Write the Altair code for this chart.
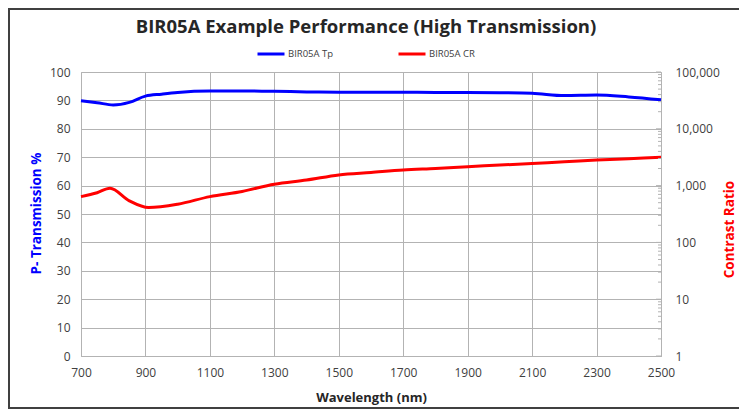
import altair as alt
import pandas as pd

# ---- data ----
series_names = ["BIR05A Tp", "BIR05A CR"]
series_colors = ["#0000ff", "#ff0000"]

tp_wavelength = [700, 750, 800, 850, 900, 950, 1000, 1100, 1200, 1300, 1400, 1500,
                 1600, 1700, 1800, 1900, 2000, 2100, 2200, 2300, 2400, 2500]
tp_values = [89.9, 89.2, 88.4, 89.3, 91.5, 92.2, 92.8, 93.3, 93.3, 93.2, 93.0, 92.9,
             92.9, 92.9, 92.8, 92.8, 92.7, 92.5, 91.7, 91.9, 91.2, 90.2]

cr_wavelength = [700, 750, 790, 850, 910, 1000, 1100, 1200, 1300, 1400, 1500, 1600,
                 1700, 1800, 1900, 2000, 2100, 2200, 2300, 2400, 2500]
cr_values = [640, 750, 900, 540, 410, 470, 640, 790, 1060, 1250, 1540, 1700,
             1880, 2000, 2150, 2300, 2460, 2620, 2820, 2980, 3150]

x_ticks = [700, 900, 1100, 1300, 1500, 1700, 1900, 2100, 2300, 2500]
left_ticks = [0, 10, 20, 30, 40, 50, 60, 70, 80, 90, 100]
right_ticks = [1, 10, 100, 1000, 10000, 100000]
right_minor_ticks = [m * d for d in [1, 10, 100, 1000, 10000] for m in range(2, 10)]

title_text = "BIR05A Example Performance (High Transmission)"

# ---- layout / style ----
FONT = "Open Sans"
W, H = 580, 284
GRID = "#b3b3b3"
LABEL = "#404040"

tp_df = pd.DataFrame({"wl": tp_wavelength, "v": tp_values, "s": series_names[0]})
cr_df = pd.DataFrame({"wl": cr_wavelength, "v": cr_values, "s": series_names[1]})
major_df = pd.DataFrame({"v": right_ticks})
minor_df = pd.DataFrame({"v": right_minor_ticks})

color = alt.Color(
    "s:N",
    scale=alt.Scale(domain=series_names, range=series_colors),
    legend=alt.Legend(
        title=None, orient="none", legendX=175, legendY=-33,
        direction="horizontal", symbolType="stroke", symbolStrokeWidth=3,
        symbolSize=729, labelFont=FONT, labelFontSize=9.5, labelColor="#404040",
        labelOffset=2, columnPadding=58,
    ),
)

xenc = alt.X(
    "wl:Q",
    scale=alt.Scale(domain=[700, 2500], nice=False, zero=False),
    axis=alt.Axis(
        values=x_ticks, format="d", title="Wavelength (nm)", grid=True,
        gridColor=GRID, domainColor=GRID, ticks=False, labelPadding=11,
        labelFlush=False,
        labelFont=FONT, labelFontSize=12, labelColor=LABEL,
        titleFont=FONT, titleFontSize=13, titleFontWeight="bold", titleColor="#262626",
        titleY=45, titleBaseline="alphabetic",
    ),
)

tp_line = alt.Chart(tp_df).mark_line(strokeWidth=3, interpolate="monotone").encode(
    x=xenc,
    y=alt.Y(
        "v:Q",
        scale=alt.Scale(domain=[0, 100], nice=False),
        axis=alt.Axis(
            values=left_ticks, title="P- Transmission %", grid=True, gridColor=GRID,
            domainColor=GRID, ticks=False, labelPadding=11, labelFont=FONT,
            labelFontSize=12, labelColor=LABEL, titleFont=FONT, titleFontSize=13.5,
            titleFontWeight="bold", titleColor="#0000ff", titleAngle=270,
            titleX=-45, titleY=141, titleAlign="center", titleBaseline="middle",
        ),
    ),
    color=color,
)

cr_line = alt.Chart(cr_df).mark_line(strokeWidth=3, interpolate="monotone").encode(
    x=xenc,
    y=alt.Y(
        "v:Q",
        scale=alt.Scale(type="log", domain=[1, 100000], nice=False),
        axis=alt.Axis(
            orient="right", values=right_ticks, format=",", title="Contrast Ratio",
            grid=False, domainColor=GRID, ticks=False, labelPadding=14,
            labelFont=FONT, labelFontSize=12, labelColor=LABEL, titleFont=FONT,
            titleFontSize=13.5, titleFontWeight="bold", titleColor="#ff0000",
            titleAngle=270, titleX=68, titleY=157, titleAlign="center",
            titleBaseline="middle",
        ),
    ),
    color=color,
)

log_scale = alt.Scale(type="log", domain=[1, 100000], nice=False)

major_marks = alt.Chart(major_df).mark_rule(color=GRID, strokeWidth=1).encode(
    x=alt.value(W - 5), x2=alt.value(W),
    y=alt.Y("v:Q", scale=log_scale, axis=None),
)
minor_marks = alt.Chart(minor_df).mark_rule(color=GRID, strokeWidth=1).encode(
    x=alt.value(W - 3), x2=alt.value(W),
    y=alt.Y("v:Q", scale=log_scale, axis=None),
)

title_mark = alt.Chart(pd.DataFrame({"t": [title_text]})).mark_text(
    font=FONT, fontSize=18.5, fontWeight="bold", color="#262626",
    align="center", baseline="alphabetic",
).encode(x=alt.value(285), y=alt.value(-39), text="t:N")

border = alt.Chart(pd.DataFrame({"t": [0]})).mark_rect(
    fill="transparent", stroke="#404040", strokeWidth=2,
).encode(
    x=alt.value(-72), x2=alt.value(W + 200),
    y=alt.value(-63), y2=alt.value(H + 52),
)

chart = alt.layer(
    border, tp_line, cr_line, major_marks, minor_marks, title_mark
).resolve_scale(y="independent").properties(
    width=W, height=H,
    autosize=alt.AutoSizeParams(type="none"),
    padding={"left": 73, "top": 64, "right": 78, "bottom": 54},
).configure_view(stroke=None).configure(background="white")

chart.save("out.html", embed_options={"renderer": "svg", "actions": False})
